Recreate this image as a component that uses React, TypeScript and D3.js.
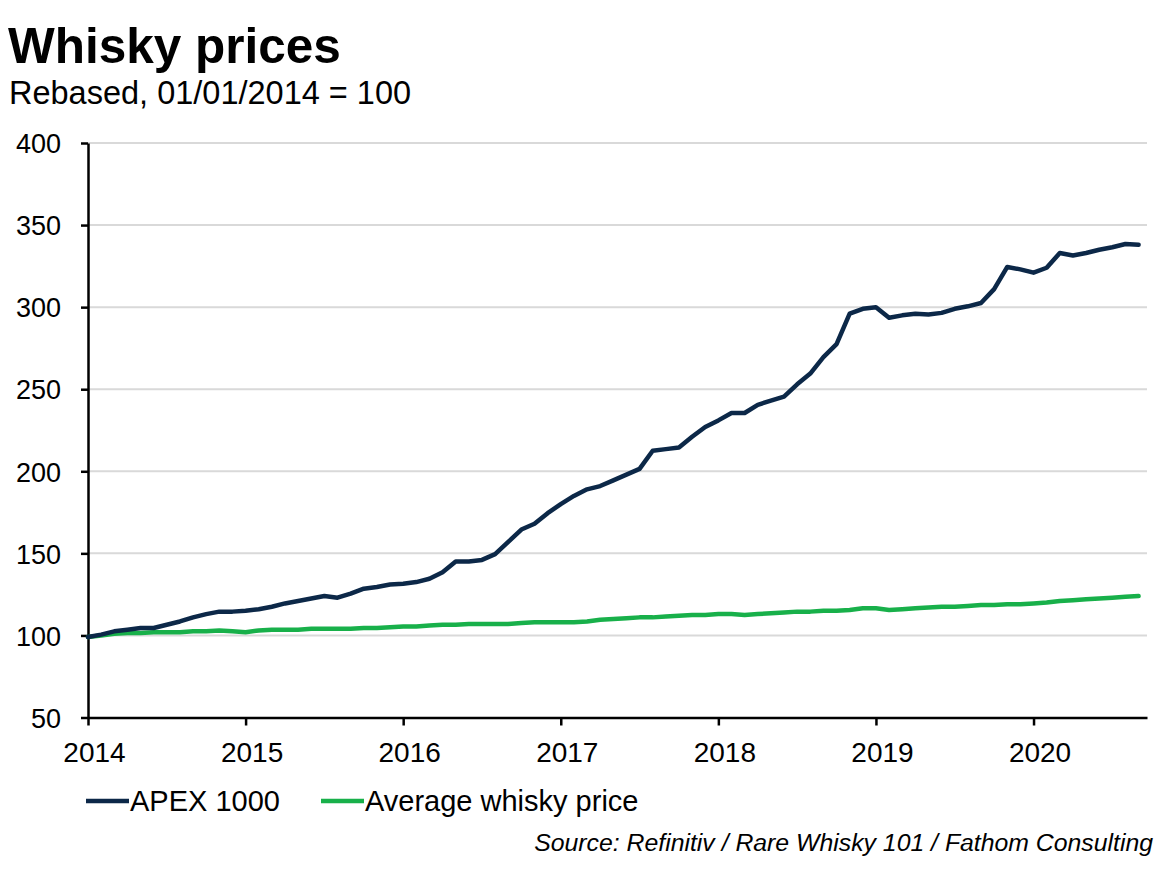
import { useEffect, useRef } from 'react';
import * as d3 from 'd3';

const size = { width: 1170, height: 869 };
const MARGIN = { top: 143, right: 23, bottom: 151.5, left: 88 };

const color = {
  apex: '#0c2848',
  average: '#18b04a',
  grid: '#d9d9d9',
  axis: '#000000',
  text: '#000000',
};

// monthly observations, Jan 2014 .. Sep 2020
const startYear = 2014;
const apex1000 = [
  99, 100.5, 102.5, 103.5, 104.5, 104.5, 106.5, 108.5, 111, 113, 114.5, 114.5,
  115, 116, 117.5, 119.5, 121, 122.5, 124, 123, 125.5, 128.5, 129.5, 131,
  131.5, 132.5, 134.5, 138.5, 145, 145, 146, 149.5, 157, 164.5, 168, 174.5,
  180, 185, 189, 191, 194.5, 198, 201.5, 212.5, 213.5, 214.5, 221, 227,
  231, 235.5, 235.5, 240.5, 243, 245.5, 253, 259.5, 269.5, 277.5, 296, 299,
  300, 293.5, 295, 296, 295.5, 296.5, 299, 300.5, 302.5, 311, 324.5, 323,
  321, 324, 333, 331.5, 333, 335, 336.5, 338.5, 338,
];
const averageWhisky = [
  99, 100, 101, 101.5, 101.5, 102, 102, 102, 102.5, 102.5, 103, 102.5,
  102, 103, 103.5, 103.5, 103.5, 104, 104, 104, 104, 104.5, 104.5, 105,
  105.5, 105.5, 106, 106.5, 106.5, 107, 107, 107, 107, 107.5, 108, 108,
  108, 108, 108.5, 109.5, 110, 110.5, 111, 111, 111.5, 112, 112.5, 112.5,
  113, 113, 112.5, 113, 113.5, 114, 114.5, 114.5, 115, 115, 115.5, 116.5,
  116.5, 115.5, 116, 116.5, 117, 117.5, 117.5, 118, 118.5, 118.5, 119, 119,
  119.5, 120, 121, 121.5, 122, 122.5, 123, 123.5, 124,
];
const yTicks = [50, 100, 150, 200, 250, 300, 350, 400];
const xTicks = [2014, 2015, 2016, 2017, 2018, 2019, 2020];

const series = [
  { name: 'APEX 1000', values: apex1000, color: color.apex },
  { name: 'Average whisky price', values: averageWhisky, color: color.average },
];

const App = () => {
  const svgRef = useRef<SVGSVGElement>(null);

  useEffect(() => {
    const svg = d3.select(svgRef.current);
    svg.selectAll('*').remove();

    const boundsWidth = size.width - MARGIN.left - MARGIN.right;
    const boundsHeight = size.height - MARGIN.top - MARGIN.bottom;

    const xScale = d3.scaleLinear().domain([2014, 2020.72]).range([0, boundsWidth]);
    const yScale = d3.scaleLinear().domain([50, 400]).range([boundsHeight, 0]);

    svg.append('rect').attr('width', size.width).attr('height', size.height).attr('fill', '#fff');

    // title
    svg
      .append('text')
      .attr('x', 8)
      .attr('y', 63)
      .attr('font-size', '49.5px')
      .attr('font-weight', '700')
      .attr('fill', color.text)
      .text('Whisky prices');
    svg
      .append('text')
      .attr('x', 9)
      .attr('y', 104)
      .attr('font-size', '32.5px')
      .attr('fill', color.text)
      .text('Rebased, 01/01/2014 = 100');

    const g = svg.append('g').attr('transform', `translate(${MARGIN.left},${MARGIN.top})`);

    // gridlines
    g.append('g')
      .selectAll('line')
      .data(yTicks.filter(t => t > 50))
      .join('line')
      .attr('x1', 0)
      .attr('x2', boundsWidth)
      .attr('y1', d => yScale(d))
      .attr('y2', d => yScale(d))
      .attr('stroke', color.grid)
      .attr('stroke-width', 2);

    // y axis
    const yAxis = d3
      .axisLeft(yScale)
      .tickValues(yTicks)
      .tickSize(7)
      .tickPadding(20)
      .tickSizeOuter(0);
    g.append('g')
      .call(yAxis)
      .call(s => s.select('.domain').attr('stroke', color.axis).attr('stroke-width', 2.5))
      .call(s => s.selectAll('.tick line').attr('stroke', color.axis).attr('stroke-width', 2.5))
      .call(s =>
        s
          .selectAll('.tick text')
          .attr('font-size', '27px')
          .attr('font-family', 'Liberation Sans, Arial, sans-serif')
          .attr('fill', color.text)
          .attr('dy', '0.36em'),
      );

    // x axis
    const xAxis = d3
      .axisBottom(xScale)
      .tickValues(xTicks)
      .tickFormat(d => String(d))
      .tickSize(8)
      .tickPadding(16.5)
      .tickSizeOuter(0);
    g.append('g')
      .attr('transform', `translate(0,${boundsHeight})`)
      .call(xAxis)
      .call(s => s.select('.domain').attr('stroke', color.axis).attr('stroke-width', 2.5))
      .call(s => s.selectAll('.tick line').attr('stroke', color.axis).attr('stroke-width', 2.5))
      .call(s =>
        s
          .selectAll('.tick text')
          .attr('x', 6)
          .attr('font-size', '28px')
          .attr('font-family', 'Liberation Sans, Arial, sans-serif')
          .attr('fill', color.text),
      );

    // lines
    const line = d3
      .line<number>()
      .x((_, i) => xScale(startYear + i / 12))
      .y(d => yScale(d));

    series
      .slice()
      .reverse()
      .forEach(s => {
        g.append('path')
          .attr('d', line(s.values))
          .attr('fill', 'none')
          .attr('stroke', s.color)
          .attr('stroke-width', 4.5)
          .attr('stroke-linejoin', 'round')
          .attr('stroke-linecap', 'round');
      });

    // legend
    const legendPos = [86, 321];
    const legend = svg.append('g').attr('transform', 'translate(0,801)');
    series.forEach((s, i) => {
      const lg = legend.append('g').attr('transform', `translate(${legendPos[i]},0)`);
      lg.append('line')
        .attr('x1', 0)
        .attr('x2', 43)
        .attr('y1', 0)
        .attr('y2', 0)
        .attr('stroke', s.color)
        .attr('stroke-width', 4.5);
      lg.append('text')
        .attr('x', 44)
        .attr('y', 0)
        .attr('dy', '0.36em')
        .attr('font-size', '29px')
        .attr('fill', color.text)
        .text(s.name);
    });

    // source
    svg
      .append('text')
      .attr('x', 1153)
      .attr('y', 851)
      .attr('text-anchor', 'end')
      .attr('font-size', '24.8px')
      .attr('font-style', 'italic')
      .attr('fill', color.text)
      .text('Source: Refinitiv / Rare Whisky 101 / Fathom Consulting');
  }, []);

  return (
    <div>
      <svg
        ref={svgRef}
        width={size.width}
        height={size.height}
        style={{ position: 'absolute', left: 0, top: 0, fontFamily: 'Liberation Sans, Arial, sans-serif' }}
      />
    </div>
  );
};

export default App;
